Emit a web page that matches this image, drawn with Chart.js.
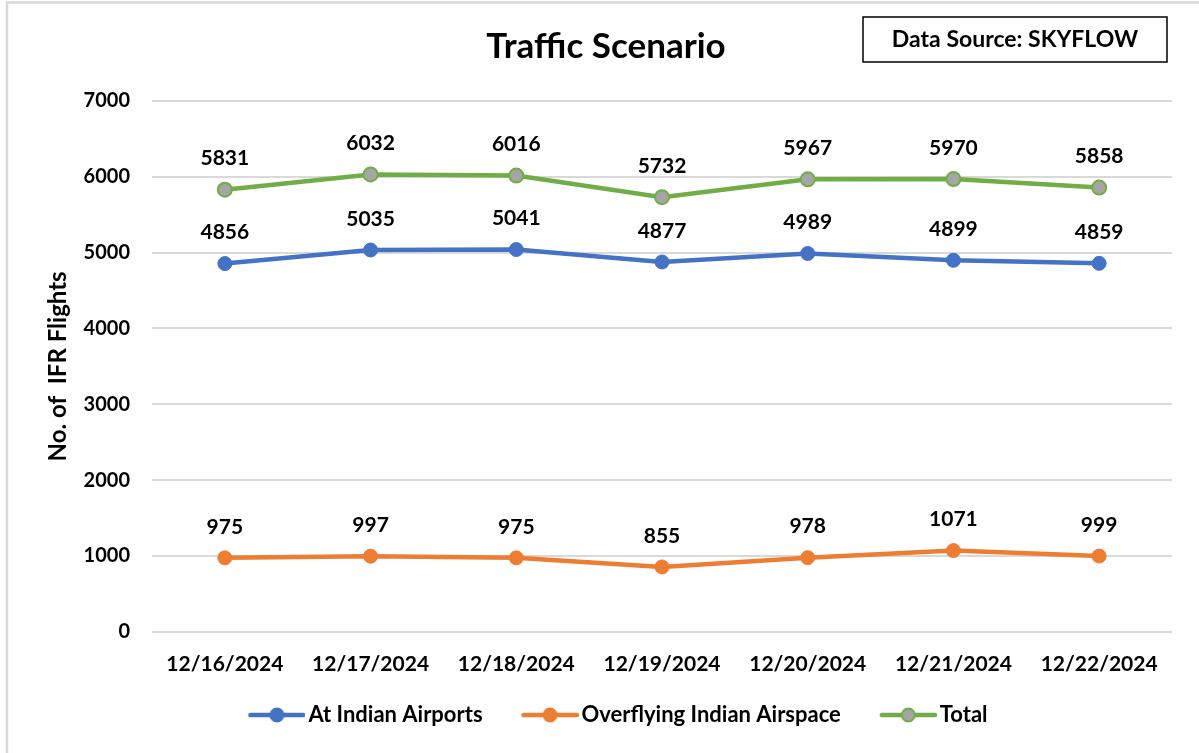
<!DOCTYPE html>
<html>
<head>
<meta charset="utf-8">
<script src="https://cdn.jsdelivr.net/npm/chart.js@4"></script>
<style>
  html, body { margin: 0; padding: 0; background: #fff; }
  canvas { display: block; }
</style>
</head>
<body>
<canvas id="trafficChart" width="1199" height="753"></canvas>
<script>
// ── Data ──
const dates = ['12/16/2024', '12/17/2024', '12/18/2024', '12/19/2024', '12/20/2024', '12/21/2024', '12/22/2024'];
const atAirports = [4856, 5035, 5041, 4877, 4989, 4899, 4859];
const overflying = [975, 997, 975, 855, 978, 1071, 999];
const totalFlights = [5831, 6032, 6016, 5732, 5967, 5970, 5858];

const yTicks = [0, 1000, 2000, 3000, 4000, 5000, 6000, 7000];

const BLUE = '#4472C4';
const ORANGE = '#ED7D31';
const GREEN = '#70AD47';
const GREY = '#A5A5A5';
const FONT = "Lato, 'Open Sans', sans-serif";

// legend box width; the marker image is 16px wider so its line runs close to the text
const LEGEND_BOX = 73;

// ── Legend marker: line with a dot in the middle ──
function legendMarker(line, fill, stroke) {
    const c = document.createElement('canvas');
    c.width = LEGEND_BOX + 16; c.height = 18;
    const g = c.getContext('2d');
    const x0 = c.width - 55, x1 = c.width - 2, mid = (x0 + x1) / 2;
    g.strokeStyle = line;
    g.lineWidth = 4.5;
    g.lineCap = 'round';
    g.beginPath(); g.moveTo(x0, 9); g.lineTo(x1, 9); g.stroke();
    g.beginPath(); g.arc(mid, 9, 6.5, 0, Math.PI * 2);
    g.fillStyle = fill; g.fill();
    g.lineWidth = 2; g.strokeStyle = stroke; g.stroke();
    return c;
}

// ── Extra drawing: frame, source box, value labels ──
const extras = {
    id: 'extras',
    beforeDraw(chart) {
        const ctx = chart.ctx;
        ctx.save();
        ctx.strokeStyle = '#d9d9d9';
        ctx.lineWidth = 2.5;
        ctx.beginPath();
        ctx.moveTo(7, 760); ctx.lineTo(7, 2.5); ctx.lineTo(1210, 2.5);
        ctx.stroke();
        ctx.restore();
    },
    afterDatasetsDraw(chart) {
        const ctx = chart.ctx;
        ctx.save();
        ctx.font = `bold 21px ${FONT}`;
        ctx.fillStyle = '#000';
        ctx.textAlign = 'center';
        ctx.textBaseline = 'middle';
        chart.data.datasets.forEach((ds, i) => {
            chart.getDatasetMeta(i).data.forEach((pt, j) => {
                ctx.fillText(String(ds.data[j]), pt.x, pt.y - 31);
            });
        });
        ctx.restore();
    },
    afterDraw(chart) {
        const ctx = chart.ctx;
        ctx.save();
        ctx.fillStyle = '#fff';
        ctx.fillRect(863, 17, 304, 45);
        ctx.strokeStyle = '#000';
        ctx.lineWidth = 1.5;
        ctx.strokeRect(863, 17, 304, 45);
        ctx.font = `bold 23px ${FONT}`;
        ctx.fillStyle = '#000';
        ctx.textAlign = 'center';
        ctx.textBaseline = 'middle';
        ctx.fillText('Data Source: SKYFLOW', 1015, 40);
        ctx.restore();
    }
};

const lineDs = (label, data, color, pointFill) => ({
    label,
    data,
    borderColor: color,
    backgroundColor: color,
    borderWidth: 4.5,
    pointRadius: 7,
    pointHoverRadius: 7,
    pointBackgroundColor: pointFill || color,
    pointBorderColor: color,
    pointBorderWidth: pointFill ? 2 : 1,
    tension: 0,
    fill: false,
});

new Chart(document.getElementById('trafficChart'), {
    type: 'line',
    data: {
        labels: dates,
        datasets: [
            lineDs('At Indian Airports', atAirports, BLUE),
            lineDs('Overflying Indian Airspace', overflying, ORANGE),
            lineDs('Total', totalFlights, GREEN, GREY),
        ]
    },
    options: {
        responsive: false,
        animation: false,
        devicePixelRatio: 1,
        layout: { padding: { left: 40, right: 27, top: 0, bottom: 17 } },
        scales: {
            x: {
                offset: true,
                grid: { display: false },
                border: { display: false },
                ticks: {
                    color: '#000',
                    font: { family: FONT, size: 21, weight: 'bold' },
                    padding: 12,
                    maxRotation: 0,
                    autoSkip: false,
                },
            },
            y: {
                min: 0,
                max: 7000,
                afterBuildTicks: scale => { scale.ticks = yTicks.map(v => ({ value: v })); },
                afterFit: scale => { scale.width = 112; },
                grid: { color: '#d9d9d9', lineWidth: 2, drawTicks: false },
                border: { display: false },
                ticks: {
                    color: '#000',
                    font: { family: FONT, size: 20, weight: 'bold' },
                    padding: 22,
                    callback: v => String(v),
                },
                title: {
                    display: true,
                    text: 'No. of  IFR Flights',
                    color: '#000',
                    font: { family: FONT, size: 24, weight: 'bold' },
                    padding: { top: 4, bottom: 0 },
                }
            }
        },
        plugins: {
            title: {
                display: true,
                text: 'Traffic Scenario',
                color: '#000',
                font: { family: FONT, size: 35, weight: 'bold' },
                padding: { top: 26, bottom: 33 },
            },
            legend: {
                position: 'bottom',
                labels: {
                    color: '#000',
                    font: { family: FONT, size: 22, weight: 'bold' },
                    usePointStyle: true,
                    pointStyleWidth: LEGEND_BOX,
                    padding: 15,
                    generateLabels: chart => chart.data.datasets.map((ds, i) => ({
                        text: ds.label,
                        fontColor: '#000',
                        datasetIndex: i,
                        pointStyle: legendMarker(ds.borderColor, ds.pointBackgroundColor, ds.pointBorderColor),
                        lineWidth: 0,
                        strokeStyle: 'transparent',
                        fillStyle: 'transparent',
                    })),
                }
            },
            tooltip: { enabled: false },
        }
    },
    plugins: [extras]
});
</script>
</body>
</html>
